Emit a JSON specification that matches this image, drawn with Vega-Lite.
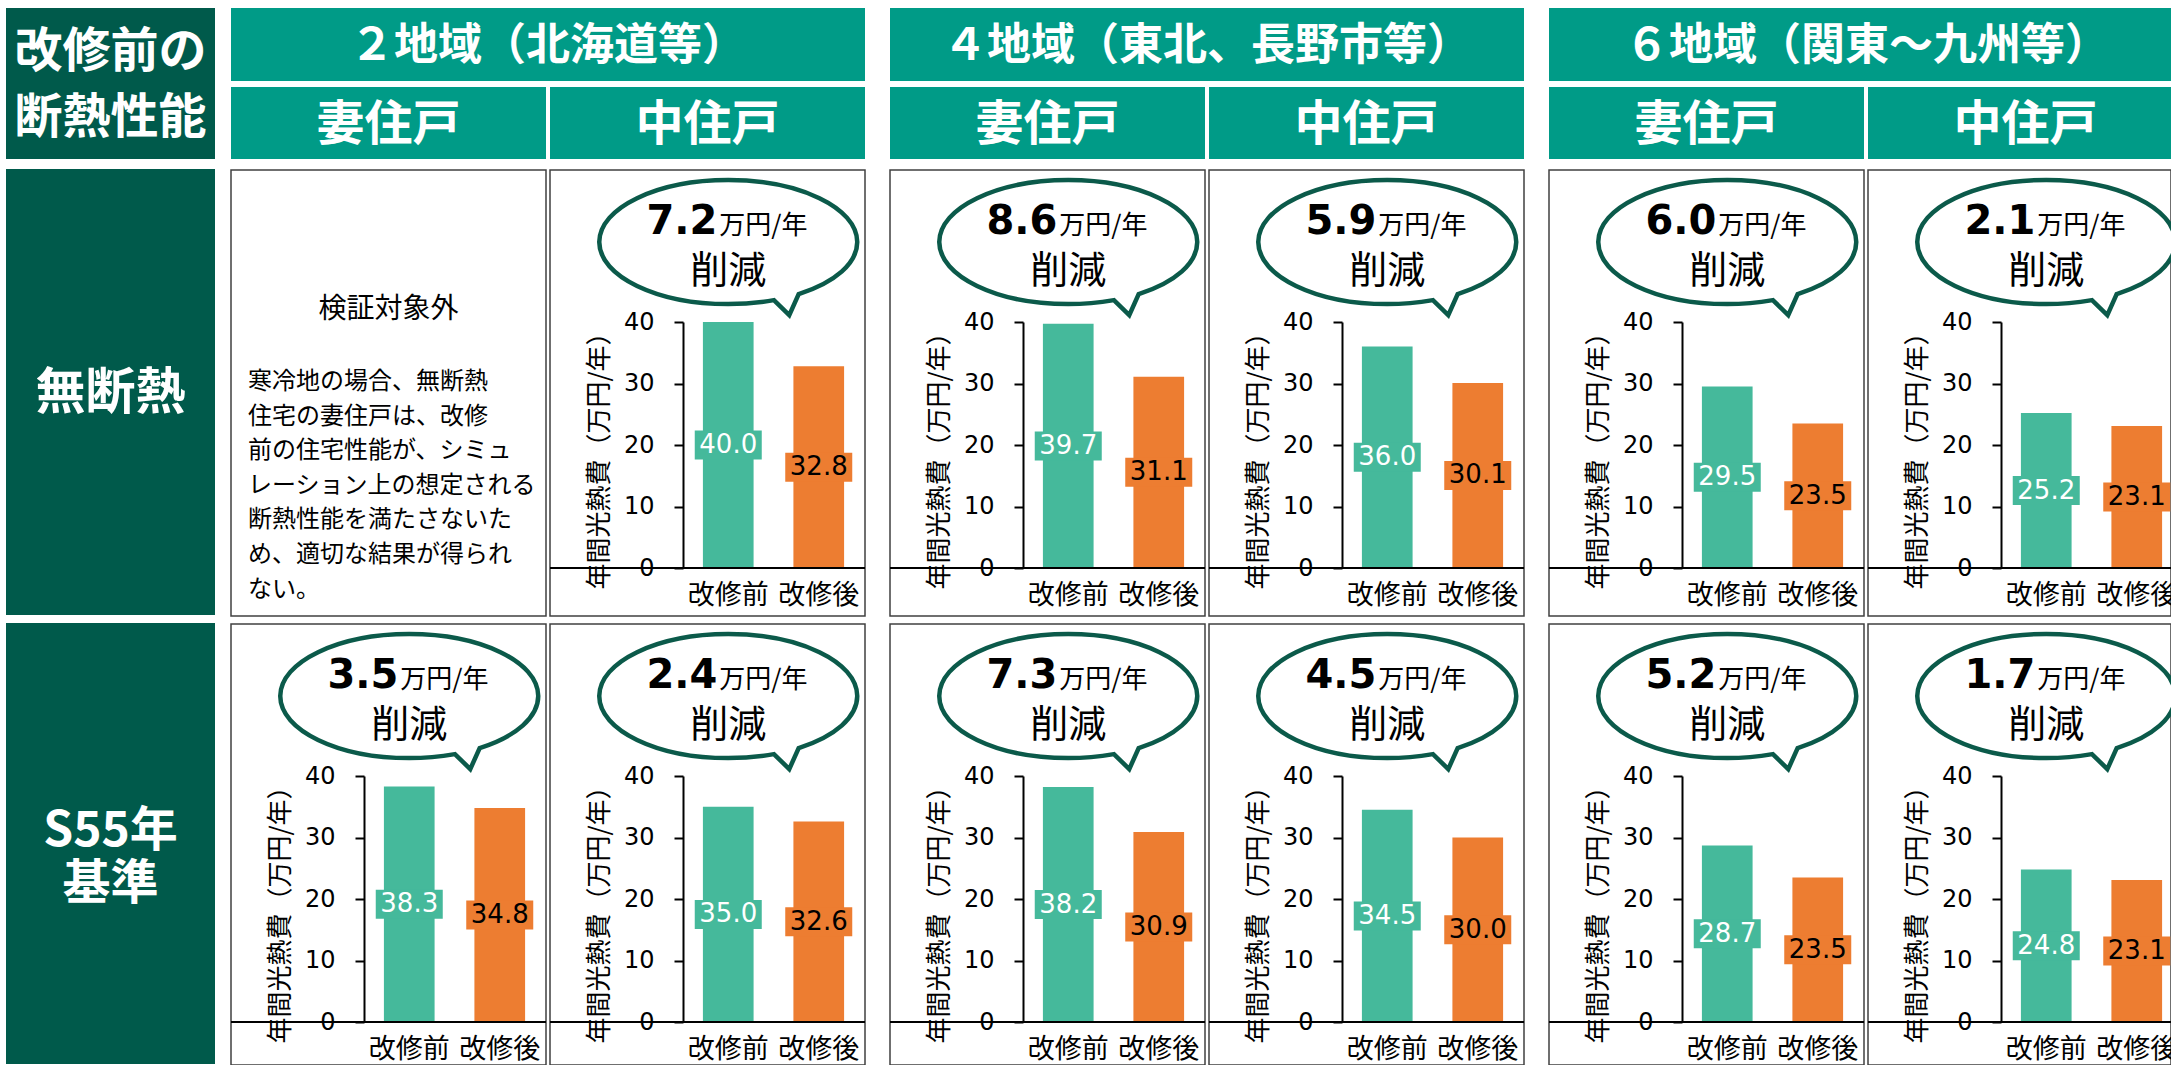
{
"$schema":"https://vega.github.io/schema/vega-lite/v6.json",
"background":"white",
"padding":{"left":6,"top":8,"right":0,"bottom":0},
"config":{"view":{"stroke":null},"font":"Noto Sans CJK JP"},
"datasets":{
"costs":[
{"insul":"無断熱","region":"2地域","unit":"中住戸","phase":"改修前","value":40.0,"reduction":7.2},
{"insul":"無断熱","region":"2地域","unit":"中住戸","phase":"改修後","value":32.8},
{"insul":"無断熱","region":"4地域","unit":"妻住戸","phase":"改修前","value":39.7,"reduction":8.6},
{"insul":"無断熱","region":"4地域","unit":"妻住戸","phase":"改修後","value":31.1},
{"insul":"無断熱","region":"4地域","unit":"中住戸","phase":"改修前","value":36.0,"reduction":5.9},
{"insul":"無断熱","region":"4地域","unit":"中住戸","phase":"改修後","value":30.1},
{"insul":"無断熱","region":"6地域","unit":"妻住戸","phase":"改修前","value":29.5,"reduction":6.0},
{"insul":"無断熱","region":"6地域","unit":"妻住戸","phase":"改修後","value":23.5},
{"insul":"無断熱","region":"6地域","unit":"中住戸","phase":"改修前","value":25.2,"reduction":2.1},
{"insul":"無断熱","region":"6地域","unit":"中住戸","phase":"改修後","value":23.1},
{"insul":"S55年基準","region":"2地域","unit":"妻住戸","phase":"改修前","value":38.3,"reduction":3.5},
{"insul":"S55年基準","region":"2地域","unit":"妻住戸","phase":"改修後","value":34.8},
{"insul":"S55年基準","region":"2地域","unit":"中住戸","phase":"改修前","value":35.0,"reduction":2.4},
{"insul":"S55年基準","region":"2地域","unit":"中住戸","phase":"改修後","value":32.6},
{"insul":"S55年基準","region":"4地域","unit":"妻住戸","phase":"改修前","value":38.2,"reduction":7.3},
{"insul":"S55年基準","region":"4地域","unit":"妻住戸","phase":"改修後","value":30.9},
{"insul":"S55年基準","region":"4地域","unit":"中住戸","phase":"改修前","value":34.5,"reduction":4.5},
{"insul":"S55年基準","region":"4地域","unit":"中住戸","phase":"改修後","value":30.0},
{"insul":"S55年基準","region":"6地域","unit":"妻住戸","phase":"改修前","value":28.7,"reduction":5.2},
{"insul":"S55年基準","region":"6地域","unit":"妻住戸","phase":"改修後","value":23.5},
{"insul":"S55年基準","region":"6地域","unit":"中住戸","phase":"改修前","value":24.8,"reduction":1.7},
{"insul":"S55年基準","region":"6地域","unit":"中住戸","phase":"改修後","value":23.1}
]
},
"spacing":15,
"hconcat":[
{"spacing":10,"vconcat":[
 {"width":209,"height":151,"view":{"fill":"#005A4B","stroke":null},"data":{"values":[{"t":"改修前の\n断熱性能"}]},"mark":{"type":"text","color":"white","font":"Noto Sans CJK JP","fontWeight":"bold","fontSize":48,"lineBreak":"\n","lineHeight":66,"baseline":"middle","align":"center","dy":-31},"encoding":{"text":{"field":"t"}}},
 {"spacing":8,"bounds":"flush","vconcat":[
  {"width":209,"height":446,"view":{"fill":"#005A4B","stroke":null},"data":{"values":[{"t":"無断熱"}]},"mark":{"type":"text","color":"white","font":"Noto Sans CJK JP","fontWeight":"bold","fontSize":50,"baseline":"middle","align":"center","dy":2},"encoding":{"text":{"field":"t"}}},
  {"width":209,"height":441,"view":{"fill":"#005A4B","stroke":null},"data":{"values":[{"t":"S55年\n基準"}]},"mark":{"type":"text","color":"white","font":"Noto Sans CJK JP","fontWeight":"bold","fontSize":48,"lineBreak":"\n","lineHeight":53,"baseline":"middle","align":"center","dy":-12},"encoding":{"text":{"field":"t"}}}
 ]}
]},
{"spacing":23,"hconcat":[
 {"spacing":10,"vconcat":[
  {"spacing":6,"vconcat":[
   {"width":634,"height":73,"view":{"fill":"#009B87","stroke":null},"data":{"values":[{"t":"２地域（北海道等）"}]},"mark":{"type":"text","color":"white","font":"Noto Sans CJK JP","fontWeight":"bold","fontSize":44,"baseline":"middle","align":"center","dy":2},"encoding":{"text":{"field":"t"}}},
   {"spacing":4,"bounds":"flush","hconcat":[
    {"width":315,"height":72,"view":{"fill":"#009B87","stroke":null},"data":{"values":[{"t":"妻住戸"}]},"mark":{"type":"text","color":"white","font":"Noto Sans CJK JP","fontWeight":"bold","fontSize":48,"baseline":"middle","align":"center","dy":3},"encoding":{"text":{"field":"t"}}},
    {"width":315,"height":72,"view":{"fill":"#009B87","stroke":null},"data":{"values":[{"t":"中住戸"}]},"mark":{"type":"text","color":"white","font":"Noto Sans CJK JP","fontWeight":"bold","fontSize":48,"baseline":"middle","align":"center","dy":3},"encoding":{"text":{"field":"t"}}}
   ]}
  ]},
  {"spacing":6,"vconcat":[
   {"spacing":4,"bounds":"flush","hconcat":[
    {"width":315,"height":446,"view":{"stroke":"#404040","strokeWidth":1.5},"data":{"values":[{"title":"検証対象外","body":"寒冷地の場合、無断熱\n住宅の妻住戸は、改修\n前の住宅性能が、シミュ\nレーション上の想定される\n断熱性能を満たさないた\nめ、適切な結果が得られ\nない。"}]},"layer":[
     {"mark":{"type":"text","font":"Noto Sans CJK JP","fontSize":28,"align":"center","baseline":"middle","dy":-83,"color":"black"},"encoding":{"text":{"field":"title"}}},
     {"mark":{"type":"text","font":"Noto Sans CJK JP","fontSize":24,"align":"left","baseline":"alphabetic","dx":-140.5,"dy":-4,"lineBreak":"\n","lineHeight":34.6,"color":"black"},"encoding":{"text":{"field":"body"}}}
    ]},
    {"width":315,"height":446,"view":{"stroke":"#404040","strokeWidth":1.5},"resolve":{"scale":{"y":"independent"}},"data":{"name":"costs"},"transform":[{"filter":"datum.insul==='無断熱'&&datum.region==='2地域'&&datum.unit==='中住戸'"}],"layer":[
     {"mark":{"type":"bar","clip":true},"encoding":{"x":{"field":"phase","type":"nominal","scale":{"domain":["改修前","改修後"],"range":[133,314],"paddingInner":0.44,"paddingOuter":0.22},"axis":null},"y":{"field":"value","type":"quantitative","scale":{"domain":[0,40],"range":[398,152],"nice":false},"axis":{"orient":"left","offset":-133,"values":[0,10,20,30,40],"grid":false,"domainColor":"black","domainWidth":2,"tickColor":"black","tickWidth":2,"tickSize":9,"labelPadding":20,"labelFont":"DejaVu Sans","labelFontSize":24,"labelColor":"black","title":"年間光熱費（万円/年）","titleFont":"Noto Sans CJK JP","titleFontSize":26,"titleFontWeight":"normal","titleColor":"black","titleAngle":-90,"titleX":-84,"titleY":284,"titleAlign":"center","titleBaseline":"middle"}},"color":{"field":"phase","type":"nominal","scale":{"domain":["改修前","改修後"],"range":["#45B99B","#ED7D31"]},"legend":null}}},
     {"mark":{"type":"bar","width":67,"yOffset":-14.5,"y2Offset":14.5,"clip":true},"encoding":{"x":{"field":"phase","type":"nominal","axis":null},"y":{"field":"value","type":"quantitative","scale":{"domain":[0,80],"range":[398,152],"nice":false},"axis":null},"y2":{"field":"value"},"color":{"field":"phase","type":"nominal","legend":null}}},
     {"mark":{"type":"text","font":"DejaVu Sans","fontSize":26,"baseline":"middle","clip":true},"encoding":{"x":{"field":"phase","type":"nominal","axis":null},"y":{"field":"value","type":"quantitative","scale":{"domain":[0,80],"range":[398,152],"nice":false},"axis":null},"text":{"field":"value","type":"quantitative","format":".1f"},"color":{"condition":{"test":"datum.phase==='改修前'","value":"white"},"value":"black"}}},
     {"mark":{"type":"text","font":"Noto Sans CJK JP","fontSize":27,"baseline":"top","dy":15,"color":"black","clip":true},"encoding":{"x":{"field":"phase","type":"nominal","axis":null},"y":{"datum":0,"type":"quantitative","scale":{"domain":[0,40],"range":[398,152],"nice":false},"axis":null},"text":{"field":"phase"}}},
     {"transform":[{"filter":"datum.phase==='改修前'"}],"mark":{"type":"rule","color":"black","strokeWidth":2,"xOffset":124,"clip":true},"encoding":{"y":{"datum":0,"type":"quantitative","scale":{"domain":[0,40],"range":[398,152],"nice":false},"axis":null}}},
     {"transform":[{"filter":"datum.phase==='改修前'"}],"mark":{"type":"point","shape":"M0.546,0.403 C0.829,0.314 1,0.163 1,0 C1,-0.266 0.552,-0.481 0,-0.481 C-0.552,-0.481 -1,-0.266 -1,0 C-1,0.266 -0.552,0.481 0,0.481 C0.121,0.481 0.24,0.47 0.354,0.45 L0.473,0.566 Z","size":66564,"filled":true,"fill":"white","stroke":"#0B5A4A","strokeWidth":4.5,"opacity":1,"clip":true},"encoding":{"x":{"field":"phase","type":"nominal","axis":null},"y":{"datum":53,"type":"quantitative","scale":{"domain":[0,40],"range":[398,152],"nice":false},"axis":null}}},
     {"transform":[{"filter":"datum.phase==='改修前'"}],"mark":{"type":"text","font":"DejaVu Sans","fontWeight":"bold","fontSize":40,"align":"right","baseline":"alphabetic","dx":-11,"color":"black"},"encoding":{"x":{"field":"phase","type":"nominal","axis":null},"y":{"datum":54.3,"type":"quantitative","scale":{"domain":[0,40],"range":[398,152],"nice":false},"axis":null},"text":{"field":"reduction","type":"quantitative","format":".1f"}}},
     {"transform":[{"filter":"datum.phase==='改修前'"}],"mark":{"type":"text","font":"Noto Sans CJK JP","fontSize":26,"align":"left","baseline":"alphabetic","dx":-9,"color":"black"},"encoding":{"x":{"field":"phase","type":"nominal","axis":null},"y":{"datum":54.3,"type":"quantitative","scale":{"domain":[0,40],"range":[398,152],"nice":false},"axis":null},"text":{"value":"万円/年"}}},
     {"transform":[{"filter":"datum.phase==='改修前'"}],"mark":{"type":"text","font":"Noto Sans CJK JP","fontSize":38,"align":"center","baseline":"alphabetic","color":"black"},"encoding":{"x":{"field":"phase","type":"nominal","axis":null},"y":{"datum":46.3,"type":"quantitative","scale":{"domain":[0,40],"range":[398,152],"nice":false},"axis":null},"text":{"value":"削減"}}}
    ]}
   ]},
   {"spacing":4,"bounds":"flush","hconcat":[
    {"width":315,"height":441,"view":{"stroke":"#404040","strokeWidth":1.5},"resolve":{"scale":{"y":"independent"}},"data":{"name":"costs"},"transform":[{"filter":"datum.insul==='S55年基準'&&datum.region==='2地域'&&datum.unit==='妻住戸'"}],"layer":[
     {"mark":{"type":"bar","clip":true},"encoding":{"x":{"field":"phase","type":"nominal","scale":{"domain":["改修前","改修後"],"range":[133,314],"paddingInner":0.44,"paddingOuter":0.22},"axis":null},"y":{"field":"value","type":"quantitative","scale":{"domain":[0,40],"range":[398,152],"nice":false},"axis":{"orient":"left","offset":-133,"values":[0,10,20,30,40],"grid":false,"domainColor":"black","domainWidth":2,"tickColor":"black","tickWidth":2,"tickSize":9,"labelPadding":20,"labelFont":"DejaVu Sans","labelFontSize":24,"labelColor":"black","title":"年間光熱費（万円/年）","titleFont":"Noto Sans CJK JP","titleFontSize":26,"titleFontWeight":"normal","titleColor":"black","titleAngle":-90,"titleX":-84,"titleY":284,"titleAlign":"center","titleBaseline":"middle"}},"color":{"field":"phase","type":"nominal","scale":{"domain":["改修前","改修後"],"range":["#45B99B","#ED7D31"]},"legend":null}}},
     {"mark":{"type":"bar","width":67,"yOffset":-14.5,"y2Offset":14.5,"clip":true},"encoding":{"x":{"field":"phase","type":"nominal","axis":null},"y":{"field":"value","type":"quantitative","scale":{"domain":[0,80],"range":[398,152],"nice":false},"axis":null},"y2":{"field":"value"},"color":{"field":"phase","type":"nominal","legend":null}}},
     {"mark":{"type":"text","font":"DejaVu Sans","fontSize":26,"baseline":"middle","clip":true},"encoding":{"x":{"field":"phase","type":"nominal","axis":null},"y":{"field":"value","type":"quantitative","scale":{"domain":[0,80],"range":[398,152],"nice":false},"axis":null},"text":{"field":"value","type":"quantitative","format":".1f"},"color":{"condition":{"test":"datum.phase==='改修前'","value":"white"},"value":"black"}}},
     {"mark":{"type":"text","font":"Noto Sans CJK JP","fontSize":27,"baseline":"top","dy":15,"color":"black","clip":true},"encoding":{"x":{"field":"phase","type":"nominal","axis":null},"y":{"datum":0,"type":"quantitative","scale":{"domain":[0,40],"range":[398,152],"nice":false},"axis":null},"text":{"field":"phase"}}},
     {"transform":[{"filter":"datum.phase==='改修前'"}],"mark":{"type":"rule","color":"black","strokeWidth":2,"xOffset":124,"clip":true},"encoding":{"y":{"datum":0,"type":"quantitative","scale":{"domain":[0,40],"range":[398,152],"nice":false},"axis":null}}},
     {"transform":[{"filter":"datum.phase==='改修前'"}],"mark":{"type":"point","shape":"M0.546,0.403 C0.829,0.314 1,0.163 1,0 C1,-0.266 0.552,-0.481 0,-0.481 C-0.552,-0.481 -1,-0.266 -1,0 C-1,0.266 -0.552,0.481 0,0.481 C0.121,0.481 0.24,0.47 0.354,0.45 L0.473,0.566 Z","size":66564,"filled":true,"fill":"white","stroke":"#0B5A4A","strokeWidth":4.5,"opacity":1,"clip":true},"encoding":{"x":{"field":"phase","type":"nominal","axis":null},"y":{"datum":53,"type":"quantitative","scale":{"domain":[0,40],"range":[398,152],"nice":false},"axis":null}}},
     {"transform":[{"filter":"datum.phase==='改修前'"}],"mark":{"type":"text","font":"DejaVu Sans","fontWeight":"bold","fontSize":40,"align":"right","baseline":"alphabetic","dx":-11,"color":"black"},"encoding":{"x":{"field":"phase","type":"nominal","axis":null},"y":{"datum":54.3,"type":"quantitative","scale":{"domain":[0,40],"range":[398,152],"nice":false},"axis":null},"text":{"field":"reduction","type":"quantitative","format":".1f"}}},
     {"transform":[{"filter":"datum.phase==='改修前'"}],"mark":{"type":"text","font":"Noto Sans CJK JP","fontSize":26,"align":"left","baseline":"alphabetic","dx":-9,"color":"black"},"encoding":{"x":{"field":"phase","type":"nominal","axis":null},"y":{"datum":54.3,"type":"quantitative","scale":{"domain":[0,40],"range":[398,152],"nice":false},"axis":null},"text":{"value":"万円/年"}}},
     {"transform":[{"filter":"datum.phase==='改修前'"}],"mark":{"type":"text","font":"Noto Sans CJK JP","fontSize":38,"align":"center","baseline":"alphabetic","color":"black"},"encoding":{"x":{"field":"phase","type":"nominal","axis":null},"y":{"datum":46.3,"type":"quantitative","scale":{"domain":[0,40],"range":[398,152],"nice":false},"axis":null},"text":{"value":"削減"}}}
    ]},
    {"width":315,"height":441,"view":{"stroke":"#404040","strokeWidth":1.5},"resolve":{"scale":{"y":"independent"}},"data":{"name":"costs"},"transform":[{"filter":"datum.insul==='S55年基準'&&datum.region==='2地域'&&datum.unit==='中住戸'"}],"layer":[
     {"mark":{"type":"bar","clip":true},"encoding":{"x":{"field":"phase","type":"nominal","scale":{"domain":["改修前","改修後"],"range":[133,314],"paddingInner":0.44,"paddingOuter":0.22},"axis":null},"y":{"field":"value","type":"quantitative","scale":{"domain":[0,40],"range":[398,152],"nice":false},"axis":{"orient":"left","offset":-133,"values":[0,10,20,30,40],"grid":false,"domainColor":"black","domainWidth":2,"tickColor":"black","tickWidth":2,"tickSize":9,"labelPadding":20,"labelFont":"DejaVu Sans","labelFontSize":24,"labelColor":"black","title":"年間光熱費（万円/年）","titleFont":"Noto Sans CJK JP","titleFontSize":26,"titleFontWeight":"normal","titleColor":"black","titleAngle":-90,"titleX":-84,"titleY":284,"titleAlign":"center","titleBaseline":"middle"}},"color":{"field":"phase","type":"nominal","scale":{"domain":["改修前","改修後"],"range":["#45B99B","#ED7D31"]},"legend":null}}},
     {"mark":{"type":"bar","width":67,"yOffset":-14.5,"y2Offset":14.5,"clip":true},"encoding":{"x":{"field":"phase","type":"nominal","axis":null},"y":{"field":"value","type":"quantitative","scale":{"domain":[0,80],"range":[398,152],"nice":false},"axis":null},"y2":{"field":"value"},"color":{"field":"phase","type":"nominal","legend":null}}},
     {"mark":{"type":"text","font":"DejaVu Sans","fontSize":26,"baseline":"middle","clip":true},"encoding":{"x":{"field":"phase","type":"nominal","axis":null},"y":{"field":"value","type":"quantitative","scale":{"domain":[0,80],"range":[398,152],"nice":false},"axis":null},"text":{"field":"value","type":"quantitative","format":".1f"},"color":{"condition":{"test":"datum.phase==='改修前'","value":"white"},"value":"black"}}},
     {"mark":{"type":"text","font":"Noto Sans CJK JP","fontSize":27,"baseline":"top","dy":15,"color":"black","clip":true},"encoding":{"x":{"field":"phase","type":"nominal","axis":null},"y":{"datum":0,"type":"quantitative","scale":{"domain":[0,40],"range":[398,152],"nice":false},"axis":null},"text":{"field":"phase"}}},
     {"transform":[{"filter":"datum.phase==='改修前'"}],"mark":{"type":"rule","color":"black","strokeWidth":2,"xOffset":124,"clip":true},"encoding":{"y":{"datum":0,"type":"quantitative","scale":{"domain":[0,40],"range":[398,152],"nice":false},"axis":null}}},
     {"transform":[{"filter":"datum.phase==='改修前'"}],"mark":{"type":"point","shape":"M0.546,0.403 C0.829,0.314 1,0.163 1,0 C1,-0.266 0.552,-0.481 0,-0.481 C-0.552,-0.481 -1,-0.266 -1,0 C-1,0.266 -0.552,0.481 0,0.481 C0.121,0.481 0.24,0.47 0.354,0.45 L0.473,0.566 Z","size":66564,"filled":true,"fill":"white","stroke":"#0B5A4A","strokeWidth":4.5,"opacity":1,"clip":true},"encoding":{"x":{"field":"phase","type":"nominal","axis":null},"y":{"datum":53,"type":"quantitative","scale":{"domain":[0,40],"range":[398,152],"nice":false},"axis":null}}},
     {"transform":[{"filter":"datum.phase==='改修前'"}],"mark":{"type":"text","font":"DejaVu Sans","fontWeight":"bold","fontSize":40,"align":"right","baseline":"alphabetic","dx":-11,"color":"black"},"encoding":{"x":{"field":"phase","type":"nominal","axis":null},"y":{"datum":54.3,"type":"quantitative","scale":{"domain":[0,40],"range":[398,152],"nice":false},"axis":null},"text":{"field":"reduction","type":"quantitative","format":".1f"}}},
     {"transform":[{"filter":"datum.phase==='改修前'"}],"mark":{"type":"text","font":"Noto Sans CJK JP","fontSize":26,"align":"left","baseline":"alphabetic","dx":-9,"color":"black"},"encoding":{"x":{"field":"phase","type":"nominal","axis":null},"y":{"datum":54.3,"type":"quantitative","scale":{"domain":[0,40],"range":[398,152],"nice":false},"axis":null},"text":{"value":"万円/年"}}},
     {"transform":[{"filter":"datum.phase==='改修前'"}],"mark":{"type":"text","font":"Noto Sans CJK JP","fontSize":38,"align":"center","baseline":"alphabetic","color":"black"},"encoding":{"x":{"field":"phase","type":"nominal","axis":null},"y":{"datum":46.3,"type":"quantitative","scale":{"domain":[0,40],"range":[398,152],"nice":false},"axis":null},"text":{"value":"削減"}}}
    ]}
   ]}
  ]}
 ]},
 {"spacing":10,"vconcat":[
  {"spacing":6,"vconcat":[
   {"width":634,"height":73,"view":{"fill":"#009B87","stroke":null},"data":{"values":[{"t":"４地域（東北、長野市等）"}]},"mark":{"type":"text","color":"white","font":"Noto Sans CJK JP","fontWeight":"bold","fontSize":44,"baseline":"middle","align":"center","dy":2},"encoding":{"text":{"field":"t"}}},
   {"spacing":4,"bounds":"flush","hconcat":[
    {"width":315,"height":72,"view":{"fill":"#009B87","stroke":null},"data":{"values":[{"t":"妻住戸"}]},"mark":{"type":"text","color":"white","font":"Noto Sans CJK JP","fontWeight":"bold","fontSize":48,"baseline":"middle","align":"center","dy":3},"encoding":{"text":{"field":"t"}}},
    {"width":315,"height":72,"view":{"fill":"#009B87","stroke":null},"data":{"values":[{"t":"中住戸"}]},"mark":{"type":"text","color":"white","font":"Noto Sans CJK JP","fontWeight":"bold","fontSize":48,"baseline":"middle","align":"center","dy":3},"encoding":{"text":{"field":"t"}}}
   ]}
  ]},
  {"spacing":6,"vconcat":[
   {"spacing":4,"bounds":"flush","hconcat":[
    {"width":315,"height":446,"view":{"stroke":"#404040","strokeWidth":1.5},"resolve":{"scale":{"y":"independent"}},"data":{"name":"costs"},"transform":[{"filter":"datum.insul==='無断熱'&&datum.region==='4地域'&&datum.unit==='妻住戸'"}],"layer":[
     {"mark":{"type":"bar","clip":true},"encoding":{"x":{"field":"phase","type":"nominal","scale":{"domain":["改修前","改修後"],"range":[133,314],"paddingInner":0.44,"paddingOuter":0.22},"axis":null},"y":{"field":"value","type":"quantitative","scale":{"domain":[0,40],"range":[398,152],"nice":false},"axis":{"orient":"left","offset":-133,"values":[0,10,20,30,40],"grid":false,"domainColor":"black","domainWidth":2,"tickColor":"black","tickWidth":2,"tickSize":9,"labelPadding":20,"labelFont":"DejaVu Sans","labelFontSize":24,"labelColor":"black","title":"年間光熱費（万円/年）","titleFont":"Noto Sans CJK JP","titleFontSize":26,"titleFontWeight":"normal","titleColor":"black","titleAngle":-90,"titleX":-84,"titleY":284,"titleAlign":"center","titleBaseline":"middle"}},"color":{"field":"phase","type":"nominal","scale":{"domain":["改修前","改修後"],"range":["#45B99B","#ED7D31"]},"legend":null}}},
     {"mark":{"type":"bar","width":67,"yOffset":-14.5,"y2Offset":14.5,"clip":true},"encoding":{"x":{"field":"phase","type":"nominal","axis":null},"y":{"field":"value","type":"quantitative","scale":{"domain":[0,80],"range":[398,152],"nice":false},"axis":null},"y2":{"field":"value"},"color":{"field":"phase","type":"nominal","legend":null}}},
     {"mark":{"type":"text","font":"DejaVu Sans","fontSize":26,"baseline":"middle","clip":true},"encoding":{"x":{"field":"phase","type":"nominal","axis":null},"y":{"field":"value","type":"quantitative","scale":{"domain":[0,80],"range":[398,152],"nice":false},"axis":null},"text":{"field":"value","type":"quantitative","format":".1f"},"color":{"condition":{"test":"datum.phase==='改修前'","value":"white"},"value":"black"}}},
     {"mark":{"type":"text","font":"Noto Sans CJK JP","fontSize":27,"baseline":"top","dy":15,"color":"black","clip":true},"encoding":{"x":{"field":"phase","type":"nominal","axis":null},"y":{"datum":0,"type":"quantitative","scale":{"domain":[0,40],"range":[398,152],"nice":false},"axis":null},"text":{"field":"phase"}}},
     {"transform":[{"filter":"datum.phase==='改修前'"}],"mark":{"type":"rule","color":"black","strokeWidth":2,"xOffset":124,"clip":true},"encoding":{"y":{"datum":0,"type":"quantitative","scale":{"domain":[0,40],"range":[398,152],"nice":false},"axis":null}}},
     {"transform":[{"filter":"datum.phase==='改修前'"}],"mark":{"type":"point","shape":"M0.546,0.403 C0.829,0.314 1,0.163 1,0 C1,-0.266 0.552,-0.481 0,-0.481 C-0.552,-0.481 -1,-0.266 -1,0 C-1,0.266 -0.552,0.481 0,0.481 C0.121,0.481 0.24,0.47 0.354,0.45 L0.473,0.566 Z","size":66564,"filled":true,"fill":"white","stroke":"#0B5A4A","strokeWidth":4.5,"opacity":1,"clip":true},"encoding":{"x":{"field":"phase","type":"nominal","axis":null},"y":{"datum":53,"type":"quantitative","scale":{"domain":[0,40],"range":[398,152],"nice":false},"axis":null}}},
     {"transform":[{"filter":"datum.phase==='改修前'"}],"mark":{"type":"text","font":"DejaVu Sans","fontWeight":"bold","fontSize":40,"align":"right","baseline":"alphabetic","dx":-11,"color":"black"},"encoding":{"x":{"field":"phase","type":"nominal","axis":null},"y":{"datum":54.3,"type":"quantitative","scale":{"domain":[0,40],"range":[398,152],"nice":false},"axis":null},"text":{"field":"reduction","type":"quantitative","format":".1f"}}},
     {"transform":[{"filter":"datum.phase==='改修前'"}],"mark":{"type":"text","font":"Noto Sans CJK JP","fontSize":26,"align":"left","baseline":"alphabetic","dx":-9,"color":"black"},"encoding":{"x":{"field":"phase","type":"nominal","axis":null},"y":{"datum":54.3,"type":"quantitative","scale":{"domain":[0,40],"range":[398,152],"nice":false},"axis":null},"text":{"value":"万円/年"}}},
     {"transform":[{"filter":"datum.phase==='改修前'"}],"mark":{"type":"text","font":"Noto Sans CJK JP","fontSize":38,"align":"center","baseline":"alphabetic","color":"black"},"encoding":{"x":{"field":"phase","type":"nominal","axis":null},"y":{"datum":46.3,"type":"quantitative","scale":{"domain":[0,40],"range":[398,152],"nice":false},"axis":null},"text":{"value":"削減"}}}
    ]},
    {"width":315,"height":446,"view":{"stroke":"#404040","strokeWidth":1.5},"resolve":{"scale":{"y":"independent"}},"data":{"name":"costs"},"transform":[{"filter":"datum.insul==='無断熱'&&datum.region==='4地域'&&datum.unit==='中住戸'"}],"layer":[
     {"mark":{"type":"bar","clip":true},"encoding":{"x":{"field":"phase","type":"nominal","scale":{"domain":["改修前","改修後"],"range":[133,314],"paddingInner":0.44,"paddingOuter":0.22},"axis":null},"y":{"field":"value","type":"quantitative","scale":{"domain":[0,40],"range":[398,152],"nice":false},"axis":{"orient":"left","offset":-133,"values":[0,10,20,30,40],"grid":false,"domainColor":"black","domainWidth":2,"tickColor":"black","tickWidth":2,"tickSize":9,"labelPadding":20,"labelFont":"DejaVu Sans","labelFontSize":24,"labelColor":"black","title":"年間光熱費（万円/年）","titleFont":"Noto Sans CJK JP","titleFontSize":26,"titleFontWeight":"normal","titleColor":"black","titleAngle":-90,"titleX":-84,"titleY":284,"titleAlign":"center","titleBaseline":"middle"}},"color":{"field":"phase","type":"nominal","scale":{"domain":["改修前","改修後"],"range":["#45B99B","#ED7D31"]},"legend":null}}},
     {"mark":{"type":"bar","width":67,"yOffset":-14.5,"y2Offset":14.5,"clip":true},"encoding":{"x":{"field":"phase","type":"nominal","axis":null},"y":{"field":"value","type":"quantitative","scale":{"domain":[0,80],"range":[398,152],"nice":false},"axis":null},"y2":{"field":"value"},"color":{"field":"phase","type":"nominal","legend":null}}},
     {"mark":{"type":"text","font":"DejaVu Sans","fontSize":26,"baseline":"middle","clip":true},"encoding":{"x":{"field":"phase","type":"nominal","axis":null},"y":{"field":"value","type":"quantitative","scale":{"domain":[0,80],"range":[398,152],"nice":false},"axis":null},"text":{"field":"value","type":"quantitative","format":".1f"},"color":{"condition":{"test":"datum.phase==='改修前'","value":"white"},"value":"black"}}},
     {"mark":{"type":"text","font":"Noto Sans CJK JP","fontSize":27,"baseline":"top","dy":15,"color":"black","clip":true},"encoding":{"x":{"field":"phase","type":"nominal","axis":null},"y":{"datum":0,"type":"quantitative","scale":{"domain":[0,40],"range":[398,152],"nice":false},"axis":null},"text":{"field":"phase"}}},
     {"transform":[{"filter":"datum.phase==='改修前'"}],"mark":{"type":"rule","color":"black","strokeWidth":2,"xOffset":124,"clip":true},"encoding":{"y":{"datum":0,"type":"quantitative","scale":{"domain":[0,40],"range":[398,152],"nice":false},"axis":null}}},
     {"transform":[{"filter":"datum.phase==='改修前'"}],"mark":{"type":"point","shape":"M0.546,0.403 C0.829,0.314 1,0.163 1,0 C1,-0.266 0.552,-0.481 0,-0.481 C-0.552,-0.481 -1,-0.266 -1,0 C-1,0.266 -0.552,0.481 0,0.481 C0.121,0.481 0.24,0.47 0.354,0.45 L0.473,0.566 Z","size":66564,"filled":true,"fill":"white","stroke":"#0B5A4A","strokeWidth":4.5,"opacity":1,"clip":true},"encoding":{"x":{"field":"phase","type":"nominal","axis":null},"y":{"datum":53,"type":"quantitative","scale":{"domain":[0,40],"range":[398,152],"nice":false},"axis":null}}},
     {"transform":[{"filter":"datum.phase==='改修前'"}],"mark":{"type":"text","font":"DejaVu Sans","fontWeight":"bold","fontSize":40,"align":"right","baseline":"alphabetic","dx":-11,"color":"black"},"encoding":{"x":{"field":"phase","type":"nominal","axis":null},"y":{"datum":54.3,"type":"quantitative","scale":{"domain":[0,40],"range":[398,152],"nice":false},"axis":null},"text":{"field":"reduction","type":"quantitative","format":".1f"}}},
     {"transform":[{"filter":"datum.phase==='改修前'"}],"mark":{"type":"text","font":"Noto Sans CJK JP","fontSize":26,"align":"left","baseline":"alphabetic","dx":-9,"color":"black"},"encoding":{"x":{"field":"phase","type":"nominal","axis":null},"y":{"datum":54.3,"type":"quantitative","scale":{"domain":[0,40],"range":[398,152],"nice":false},"axis":null},"text":{"value":"万円/年"}}},
     {"transform":[{"filter":"datum.phase==='改修前'"}],"mark":{"type":"text","font":"Noto Sans CJK JP","fontSize":38,"align":"center","baseline":"alphabetic","color":"black"},"encoding":{"x":{"field":"phase","type":"nominal","axis":null},"y":{"datum":46.3,"type":"quantitative","scale":{"domain":[0,40],"range":[398,152],"nice":false},"axis":null},"text":{"value":"削減"}}}
    ]}
   ]},
   {"spacing":4,"bounds":"flush","hconcat":[
    {"width":315,"height":441,"view":{"stroke":"#404040","strokeWidth":1.5},"resolve":{"scale":{"y":"independent"}},"data":{"name":"costs"},"transform":[{"filter":"datum.insul==='S55年基準'&&datum.region==='4地域'&&datum.unit==='妻住戸'"}],"layer":[
     {"mark":{"type":"bar","clip":true},"encoding":{"x":{"field":"phase","type":"nominal","scale":{"domain":["改修前","改修後"],"range":[133,314],"paddingInner":0.44,"paddingOuter":0.22},"axis":null},"y":{"field":"value","type":"quantitative","scale":{"domain":[0,40],"range":[398,152],"nice":false},"axis":{"orient":"left","offset":-133,"values":[0,10,20,30,40],"grid":false,"domainColor":"black","domainWidth":2,"tickColor":"black","tickWidth":2,"tickSize":9,"labelPadding":20,"labelFont":"DejaVu Sans","labelFontSize":24,"labelColor":"black","title":"年間光熱費（万円/年）","titleFont":"Noto Sans CJK JP","titleFontSize":26,"titleFontWeight":"normal","titleColor":"black","titleAngle":-90,"titleX":-84,"titleY":284,"titleAlign":"center","titleBaseline":"middle"}},"color":{"field":"phase","type":"nominal","scale":{"domain":["改修前","改修後"],"range":["#45B99B","#ED7D31"]},"legend":null}}},
     {"mark":{"type":"bar","width":67,"yOffset":-14.5,"y2Offset":14.5,"clip":true},"encoding":{"x":{"field":"phase","type":"nominal","axis":null},"y":{"field":"value","type":"quantitative","scale":{"domain":[0,80],"range":[398,152],"nice":false},"axis":null},"y2":{"field":"value"},"color":{"field":"phase","type":"nominal","legend":null}}},
     {"mark":{"type":"text","font":"DejaVu Sans","fontSize":26,"baseline":"middle","clip":true},"encoding":{"x":{"field":"phase","type":"nominal","axis":null},"y":{"field":"value","type":"quantitative","scale":{"domain":[0,80],"range":[398,152],"nice":false},"axis":null},"text":{"field":"value","type":"quantitative","format":".1f"},"color":{"condition":{"test":"datum.phase==='改修前'","value":"white"},"value":"black"}}},
     {"mark":{"type":"text","font":"Noto Sans CJK JP","fontSize":27,"baseline":"top","dy":15,"color":"black","clip":true},"encoding":{"x":{"field":"phase","type":"nominal","axis":null},"y":{"datum":0,"type":"quantitative","scale":{"domain":[0,40],"range":[398,152],"nice":false},"axis":null},"text":{"field":"phase"}}},
     {"transform":[{"filter":"datum.phase==='改修前'"}],"mark":{"type":"rule","color":"black","strokeWidth":2,"xOffset":124,"clip":true},"encoding":{"y":{"datum":0,"type":"quantitative","scale":{"domain":[0,40],"range":[398,152],"nice":false},"axis":null}}},
     {"transform":[{"filter":"datum.phase==='改修前'"}],"mark":{"type":"point","shape":"M0.546,0.403 C0.829,0.314 1,0.163 1,0 C1,-0.266 0.552,-0.481 0,-0.481 C-0.552,-0.481 -1,-0.266 -1,0 C-1,0.266 -0.552,0.481 0,0.481 C0.121,0.481 0.24,0.47 0.354,0.45 L0.473,0.566 Z","size":66564,"filled":true,"fill":"white","stroke":"#0B5A4A","strokeWidth":4.5,"opacity":1,"clip":true},"encoding":{"x":{"field":"phase","type":"nominal","axis":null},"y":{"datum":53,"type":"quantitative","scale":{"domain":[0,40],"range":[398,152],"nice":false},"axis":null}}},
     {"transform":[{"filter":"datum.phase==='改修前'"}],"mark":{"type":"text","font":"DejaVu Sans","fontWeight":"bold","fontSize":40,"align":"right","baseline":"alphabetic","dx":-11,"color":"black"},"encoding":{"x":{"field":"phase","type":"nominal","axis":null},"y":{"datum":54.3,"type":"quantitative","scale":{"domain":[0,40],"range":[398,152],"nice":false},"axis":null},"text":{"field":"reduction","type":"quantitative","format":".1f"}}},
     {"transform":[{"filter":"datum.phase==='改修前'"}],"mark":{"type":"text","font":"Noto Sans CJK JP","fontSize":26,"align":"left","baseline":"alphabetic","dx":-9,"color":"black"},"encoding":{"x":{"field":"phase","type":"nominal","axis":null},"y":{"datum":54.3,"type":"quantitative","scale":{"domain":[0,40],"range":[398,152],"nice":false},"axis":null},"text":{"value":"万円/年"}}},
     {"transform":[{"filter":"datum.phase==='改修前'"}],"mark":{"type":"text","font":"Noto Sans CJK JP","fontSize":38,"align":"center","baseline":"alphabetic","color":"black"},"encoding":{"x":{"field":"phase","type":"nominal","axis":null},"y":{"datum":46.3,"type":"quantitative","scale":{"domain":[0,40],"range":[398,152],"nice":false},"axis":null},"text":{"value":"削減"}}}
    ]},
    {"width":315,"height":441,"view":{"stroke":"#404040","strokeWidth":1.5},"resolve":{"scale":{"y":"independent"}},"data":{"name":"costs"},"transform":[{"filter":"datum.insul==='S55年基準'&&datum.region==='4地域'&&datum.unit==='中住戸'"}],"layer":[
     {"mark":{"type":"bar","clip":true},"encoding":{"x":{"field":"phase","type":"nominal","scale":{"domain":["改修前","改修後"],"range":[133,314],"paddingInner":0.44,"paddingOuter":0.22},"axis":null},"y":{"field":"value","type":"quantitative","scale":{"domain":[0,40],"range":[398,152],"nice":false},"axis":{"orient":"left","offset":-133,"values":[0,10,20,30,40],"grid":false,"domainColor":"black","domainWidth":2,"tickColor":"black","tickWidth":2,"tickSize":9,"labelPadding":20,"labelFont":"DejaVu Sans","labelFontSize":24,"labelColor":"black","title":"年間光熱費（万円/年）","titleFont":"Noto Sans CJK JP","titleFontSize":26,"titleFontWeight":"normal","titleColor":"black","titleAngle":-90,"titleX":-84,"titleY":284,"titleAlign":"center","titleBaseline":"middle"}},"color":{"field":"phase","type":"nominal","scale":{"domain":["改修前","改修後"],"range":["#45B99B","#ED7D31"]},"legend":null}}},
     {"mark":{"type":"bar","width":67,"yOffset":-14.5,"y2Offset":14.5,"clip":true},"encoding":{"x":{"field":"phase","type":"nominal","axis":null},"y":{"field":"value","type":"quantitative","scale":{"domain":[0,80],"range":[398,152],"nice":false},"axis":null},"y2":{"field":"value"},"color":{"field":"phase","type":"nominal","legend":null}}},
     {"mark":{"type":"text","font":"DejaVu Sans","fontSize":26,"baseline":"middle","clip":true},"encoding":{"x":{"field":"phase","type":"nominal","axis":null},"y":{"field":"value","type":"quantitative","scale":{"domain":[0,80],"range":[398,152],"nice":false},"axis":null},"text":{"field":"value","type":"quantitative","format":".1f"},"color":{"condition":{"test":"datum.phase==='改修前'","value":"white"},"value":"black"}}},
     {"mark":{"type":"text","font":"Noto Sans CJK JP","fontSize":27,"baseline":"top","dy":15,"color":"black","clip":true},"encoding":{"x":{"field":"phase","type":"nominal","axis":null},"y":{"datum":0,"type":"quantitative","scale":{"domain":[0,40],"range":[398,152],"nice":false},"axis":null},"text":{"field":"phase"}}},
     {"transform":[{"filter":"datum.phase==='改修前'"}],"mark":{"type":"rule","color":"black","strokeWidth":2,"xOffset":124,"clip":true},"encoding":{"y":{"datum":0,"type":"quantitative","scale":{"domain":[0,40],"range":[398,152],"nice":false},"axis":null}}},
     {"transform":[{"filter":"datum.phase==='改修前'"}],"mark":{"type":"point","shape":"M0.546,0.403 C0.829,0.314 1,0.163 1,0 C1,-0.266 0.552,-0.481 0,-0.481 C-0.552,-0.481 -1,-0.266 -1,0 C-1,0.266 -0.552,0.481 0,0.481 C0.121,0.481 0.24,0.47 0.354,0.45 L0.473,0.566 Z","size":66564,"filled":true,"fill":"white","stroke":"#0B5A4A","strokeWidth":4.5,"opacity":1,"clip":true},"encoding":{"x":{"field":"phase","type":"nominal","axis":null},"y":{"datum":53,"type":"quantitative","scale":{"domain":[0,40],"range":[398,152],"nice":false},"axis":null}}},
     {"transform":[{"filter":"datum.phase==='改修前'"}],"mark":{"type":"text","font":"DejaVu Sans","fontWeight":"bold","fontSize":40,"align":"right","baseline":"alphabetic","dx":-11,"color":"black"},"encoding":{"x":{"field":"phase","type":"nominal","axis":null},"y":{"datum":54.3,"type":"quantitative","scale":{"domain":[0,40],"range":[398,152],"nice":false},"axis":null},"text":{"field":"reduction","type":"quantitative","format":".1f"}}},
     {"transform":[{"filter":"datum.phase==='改修前'"}],"mark":{"type":"text","font":"Noto Sans CJK JP","fontSize":26,"align":"left","baseline":"alphabetic","dx":-9,"color":"black"},"encoding":{"x":{"field":"phase","type":"nominal","axis":null},"y":{"datum":54.3,"type":"quantitative","scale":{"domain":[0,40],"range":[398,152],"nice":false},"axis":null},"text":{"value":"万円/年"}}},
     {"transform":[{"filter":"datum.phase==='改修前'"}],"mark":{"type":"text","font":"Noto Sans CJK JP","fontSize":38,"align":"center","baseline":"alphabetic","color":"black"},"encoding":{"x":{"field":"phase","type":"nominal","axis":null},"y":{"datum":46.3,"type":"quantitative","scale":{"domain":[0,40],"range":[398,152],"nice":false},"axis":null},"text":{"value":"削減"}}}
    ]}
   ]}
  ]}
 ]},
 {"spacing":10,"vconcat":[
  {"spacing":6,"vconcat":[
   {"width":622,"height":73,"view":{"fill":"#009B87","stroke":null},"data":{"values":[{"t":"６地域（関東～九州等）"}]},"mark":{"type":"text","color":"white","font":"Noto Sans CJK JP","fontWeight":"bold","fontSize":44,"baseline":"middle","align":"center","dx":7,"dy":2},"encoding":{"text":{"field":"t"}}},
   {"spacing":4,"bounds":"flush","hconcat":[
    {"width":315,"height":72,"view":{"fill":"#009B87","stroke":null},"data":{"values":[{"t":"妻住戸"}]},"mark":{"type":"text","color":"white","font":"Noto Sans CJK JP","fontWeight":"bold","fontSize":48,"baseline":"middle","align":"center","dy":3},"encoding":{"text":{"field":"t"}}},
    {"width":303,"height":72,"view":{"fill":"#009B87","stroke":null},"data":{"values":[{"t":"中住戸"}]},"mark":{"type":"text","color":"white","font":"Noto Sans CJK JP","fontWeight":"bold","fontSize":48,"baseline":"middle","align":"center","dx":6,"dy":3},"encoding":{"text":{"field":"t"}}}
   ]}
  ]},
  {"spacing":6,"vconcat":[
   {"spacing":4,"bounds":"flush","hconcat":[
    {"width":315,"height":446,"view":{"stroke":"#404040","strokeWidth":1.5},"resolve":{"scale":{"y":"independent"}},"data":{"name":"costs"},"transform":[{"filter":"datum.insul==='無断熱'&&datum.region==='6地域'&&datum.unit==='妻住戸'"}],"layer":[
     {"mark":{"type":"bar","clip":true},"encoding":{"x":{"field":"phase","type":"nominal","scale":{"domain":["改修前","改修後"],"range":[133,314],"paddingInner":0.44,"paddingOuter":0.22},"axis":null},"y":{"field":"value","type":"quantitative","scale":{"domain":[0,40],"range":[398,152],"nice":false},"axis":{"orient":"left","offset":-133,"values":[0,10,20,30,40],"grid":false,"domainColor":"black","domainWidth":2,"tickColor":"black","tickWidth":2,"tickSize":9,"labelPadding":20,"labelFont":"DejaVu Sans","labelFontSize":24,"labelColor":"black","title":"年間光熱費（万円/年）","titleFont":"Noto Sans CJK JP","titleFontSize":26,"titleFontWeight":"normal","titleColor":"black","titleAngle":-90,"titleX":-84,"titleY":284,"titleAlign":"center","titleBaseline":"middle"}},"color":{"field":"phase","type":"nominal","scale":{"domain":["改修前","改修後"],"range":["#45B99B","#ED7D31"]},"legend":null}}},
     {"mark":{"type":"bar","width":67,"yOffset":-14.5,"y2Offset":14.5,"clip":true},"encoding":{"x":{"field":"phase","type":"nominal","axis":null},"y":{"field":"value","type":"quantitative","scale":{"domain":[0,80],"range":[398,152],"nice":false},"axis":null},"y2":{"field":"value"},"color":{"field":"phase","type":"nominal","legend":null}}},
     {"mark":{"type":"text","font":"DejaVu Sans","fontSize":26,"baseline":"middle","clip":true},"encoding":{"x":{"field":"phase","type":"nominal","axis":null},"y":{"field":"value","type":"quantitative","scale":{"domain":[0,80],"range":[398,152],"nice":false},"axis":null},"text":{"field":"value","type":"quantitative","format":".1f"},"color":{"condition":{"test":"datum.phase==='改修前'","value":"white"},"value":"black"}}},
     {"mark":{"type":"text","font":"Noto Sans CJK JP","fontSize":27,"baseline":"top","dy":15,"color":"black","clip":true},"encoding":{"x":{"field":"phase","type":"nominal","axis":null},"y":{"datum":0,"type":"quantitative","scale":{"domain":[0,40],"range":[398,152],"nice":false},"axis":null},"text":{"field":"phase"}}},
     {"transform":[{"filter":"datum.phase==='改修前'"}],"mark":{"type":"rule","color":"black","strokeWidth":2,"xOffset":124,"clip":true},"encoding":{"y":{"datum":0,"type":"quantitative","scale":{"domain":[0,40],"range":[398,152],"nice":false},"axis":null}}},
     {"transform":[{"filter":"datum.phase==='改修前'"}],"mark":{"type":"point","shape":"M0.546,0.403 C0.829,0.314 1,0.163 1,0 C1,-0.266 0.552,-0.481 0,-0.481 C-0.552,-0.481 -1,-0.266 -1,0 C-1,0.266 -0.552,0.481 0,0.481 C0.121,0.481 0.24,0.47 0.354,0.45 L0.473,0.566 Z","size":66564,"filled":true,"fill":"white","stroke":"#0B5A4A","strokeWidth":4.5,"opacity":1,"clip":true},"encoding":{"x":{"field":"phase","type":"nominal","axis":null},"y":{"datum":53,"type":"quantitative","scale":{"domain":[0,40],"range":[398,152],"nice":false},"axis":null}}},
     {"transform":[{"filter":"datum.phase==='改修前'"}],"mark":{"type":"text","font":"DejaVu Sans","fontWeight":"bold","fontSize":40,"align":"right","baseline":"alphabetic","dx":-11,"color":"black"},"encoding":{"x":{"field":"phase","type":"nominal","axis":null},"y":{"datum":54.3,"type":"quantitative","scale":{"domain":[0,40],"range":[398,152],"nice":false},"axis":null},"text":{"field":"reduction","type":"quantitative","format":".1f"}}},
     {"transform":[{"filter":"datum.phase==='改修前'"}],"mark":{"type":"text","font":"Noto Sans CJK JP","fontSize":26,"align":"left","baseline":"alphabetic","dx":-9,"color":"black"},"encoding":{"x":{"field":"phase","type":"nominal","axis":null},"y":{"datum":54.3,"type":"quantitative","scale":{"domain":[0,40],"range":[398,152],"nice":false},"axis":null},"text":{"value":"万円/年"}}},
     {"transform":[{"filter":"datum.phase==='改修前'"}],"mark":{"type":"text","font":"Noto Sans CJK JP","fontSize":38,"align":"center","baseline":"alphabetic","color":"black"},"encoding":{"x":{"field":"phase","type":"nominal","axis":null},"y":{"datum":46.3,"type":"quantitative","scale":{"domain":[0,40],"range":[398,152],"nice":false},"axis":null},"text":{"value":"削減"}}}
    ]},
    {"width":303,"height":446,"view":{"stroke":"#404040","strokeWidth":1.5},"resolve":{"scale":{"y":"independent"}},"data":{"name":"costs"},"transform":[{"filter":"datum.insul==='無断熱'&&datum.region==='6地域'&&datum.unit==='中住戸'"}],"layer":[
     {"mark":{"type":"bar","clip":true},"encoding":{"x":{"field":"phase","type":"nominal","scale":{"domain":["改修前","改修後"],"range":[133,314],"paddingInner":0.44,"paddingOuter":0.22},"axis":null},"y":{"field":"value","type":"quantitative","scale":{"domain":[0,40],"range":[398,152],"nice":false},"axis":{"orient":"left","offset":-133,"values":[0,10,20,30,40],"grid":false,"domainColor":"black","domainWidth":2,"tickColor":"black","tickWidth":2,"tickSize":9,"labelPadding":20,"labelFont":"DejaVu Sans","labelFontSize":24,"labelColor":"black","title":"年間光熱費（万円/年）","titleFont":"Noto Sans CJK JP","titleFontSize":26,"titleFontWeight":"normal","titleColor":"black","titleAngle":-90,"titleX":-84,"titleY":284,"titleAlign":"center","titleBaseline":"middle"}},"color":{"field":"phase","type":"nominal","scale":{"domain":["改修前","改修後"],"range":["#45B99B","#ED7D31"]},"legend":null}}},
     {"mark":{"type":"bar","width":67,"yOffset":-14.5,"y2Offset":14.5,"clip":true},"encoding":{"x":{"field":"phase","type":"nominal","axis":null},"y":{"field":"value","type":"quantitative","scale":{"domain":[0,80],"range":[398,152],"nice":false},"axis":null},"y2":{"field":"value"},"color":{"field":"phase","type":"nominal","legend":null}}},
     {"mark":{"type":"text","font":"DejaVu Sans","fontSize":26,"baseline":"middle","clip":true},"encoding":{"x":{"field":"phase","type":"nominal","axis":null},"y":{"field":"value","type":"quantitative","scale":{"domain":[0,80],"range":[398,152],"nice":false},"axis":null},"text":{"field":"value","type":"quantitative","format":".1f"},"color":{"condition":{"test":"datum.phase==='改修前'","value":"white"},"value":"black"}}},
     {"mark":{"type":"text","font":"Noto Sans CJK JP","fontSize":27,"baseline":"top","dy":15,"color":"black","clip":true},"encoding":{"x":{"field":"phase","type":"nominal","axis":null},"y":{"datum":0,"type":"quantitative","scale":{"domain":[0,40],"range":[398,152],"nice":false},"axis":null},"text":{"field":"phase"}}},
     {"transform":[{"filter":"datum.phase==='改修前'"}],"mark":{"type":"rule","color":"black","strokeWidth":2,"xOffset":124,"clip":true},"encoding":{"y":{"datum":0,"type":"quantitative","scale":{"domain":[0,40],"range":[398,152],"nice":false},"axis":null}}},
     {"transform":[{"filter":"datum.phase==='改修前'"}],"mark":{"type":"point","shape":"M0.546,0.403 C0.829,0.314 1,0.163 1,0 C1,-0.266 0.552,-0.481 0,-0.481 C-0.552,-0.481 -1,-0.266 -1,0 C-1,0.266 -0.552,0.481 0,0.481 C0.121,0.481 0.24,0.47 0.354,0.45 L0.473,0.566 Z","size":66564,"filled":true,"fill":"white","stroke":"#0B5A4A","strokeWidth":4.5,"opacity":1,"clip":true},"encoding":{"x":{"field":"phase","type":"nominal","axis":null},"y":{"datum":53,"type":"quantitative","scale":{"domain":[0,40],"range":[398,152],"nice":false},"axis":null}}},
     {"transform":[{"filter":"datum.phase==='改修前'"}],"mark":{"type":"text","font":"DejaVu Sans","fontWeight":"bold","fontSize":40,"align":"right","baseline":"alphabetic","dx":-11,"color":"black"},"encoding":{"x":{"field":"phase","type":"nominal","axis":null},"y":{"datum":54.3,"type":"quantitative","scale":{"domain":[0,40],"range":[398,152],"nice":false},"axis":null},"text":{"field":"reduction","type":"quantitative","format":".1f"}}},
     {"transform":[{"filter":"datum.phase==='改修前'"}],"mark":{"type":"text","font":"Noto Sans CJK JP","fontSize":26,"align":"left","baseline":"alphabetic","dx":-9,"color":"black"},"encoding":{"x":{"field":"phase","type":"nominal","axis":null},"y":{"datum":54.3,"type":"quantitative","scale":{"domain":[0,40],"range":[398,152],"nice":false},"axis":null},"text":{"value":"万円/年"}}},
     {"transform":[{"filter":"datum.phase==='改修前'"}],"mark":{"type":"text","font":"Noto Sans CJK JP","fontSize":38,"align":"center","baseline":"alphabetic","color":"black"},"encoding":{"x":{"field":"phase","type":"nominal","axis":null},"y":{"datum":46.3,"type":"quantitative","scale":{"domain":[0,40],"range":[398,152],"nice":false},"axis":null},"text":{"value":"削減"}}}
    ]}
   ]},
   {"spacing":4,"bounds":"flush","hconcat":[
    {"width":315,"height":441,"view":{"stroke":"#404040","strokeWidth":1.5},"resolve":{"scale":{"y":"independent"}},"data":{"name":"costs"},"transform":[{"filter":"datum.insul==='S55年基準'&&datum.region==='6地域'&&datum.unit==='妻住戸'"}],"layer":[
     {"mark":{"type":"bar","clip":true},"encoding":{"x":{"field":"phase","type":"nominal","scale":{"domain":["改修前","改修後"],"range":[133,314],"paddingInner":0.44,"paddingOuter":0.22},"axis":null},"y":{"field":"value","type":"quantitative","scale":{"domain":[0,40],"range":[398,152],"nice":false},"axis":{"orient":"left","offset":-133,"values":[0,10,20,30,40],"grid":false,"domainColor":"black","domainWidth":2,"tickColor":"black","tickWidth":2,"tickSize":9,"labelPadding":20,"labelFont":"DejaVu Sans","labelFontSize":24,"labelColor":"black","title":"年間光熱費（万円/年）","titleFont":"Noto Sans CJK JP","titleFontSize":26,"titleFontWeight":"normal","titleColor":"black","titleAngle":-90,"titleX":-84,"titleY":284,"titleAlign":"center","titleBaseline":"middle"}},"color":{"field":"phase","type":"nominal","scale":{"domain":["改修前","改修後"],"range":["#45B99B","#ED7D31"]},"legend":null}}},
     {"mark":{"type":"bar","width":67,"yOffset":-14.5,"y2Offset":14.5,"clip":true},"encoding":{"x":{"field":"phase","type":"nominal","axis":null},"y":{"field":"value","type":"quantitative","scale":{"domain":[0,80],"range":[398,152],"nice":false},"axis":null},"y2":{"field":"value"},"color":{"field":"phase","type":"nominal","legend":null}}},
     {"mark":{"type":"text","font":"DejaVu Sans","fontSize":26,"baseline":"middle","clip":true},"encoding":{"x":{"field":"phase","type":"nominal","axis":null},"y":{"field":"value","type":"quantitative","scale":{"domain":[0,80],"range":[398,152],"nice":false},"axis":null},"text":{"field":"value","type":"quantitative","format":".1f"},"color":{"condition":{"test":"datum.phase==='改修前'","value":"white"},"value":"black"}}},
     {"mark":{"type":"text","font":"Noto Sans CJK JP","fontSize":27,"baseline":"top","dy":15,"color":"black","clip":true},"encoding":{"x":{"field":"phase","type":"nominal","axis":null},"y":{"datum":0,"type":"quantitative","scale":{"domain":[0,40],"range":[398,152],"nice":false},"axis":null},"text":{"field":"phase"}}},
     {"transform":[{"filter":"datum.phase==='改修前'"}],"mark":{"type":"rule","color":"black","strokeWidth":2,"xOffset":124,"clip":true},"encoding":{"y":{"datum":0,"type":"quantitative","scale":{"domain":[0,40],"range":[398,152],"nice":false},"axis":null}}},
     {"transform":[{"filter":"datum.phase==='改修前'"}],"mark":{"type":"point","shape":"M0.546,0.403 C0.829,0.314 1,0.163 1,0 C1,-0.266 0.552,-0.481 0,-0.481 C-0.552,-0.481 -1,-0.266 -1,0 C-1,0.266 -0.552,0.481 0,0.481 C0.121,0.481 0.24,0.47 0.354,0.45 L0.473,0.566 Z","size":66564,"filled":true,"fill":"white","stroke":"#0B5A4A","strokeWidth":4.5,"opacity":1,"clip":true},"encoding":{"x":{"field":"phase","type":"nominal","axis":null},"y":{"datum":53,"type":"quantitative","scale":{"domain":[0,40],"range":[398,152],"nice":false},"axis":null}}},
     {"transform":[{"filter":"datum.phase==='改修前'"}],"mark":{"type":"text","font":"DejaVu Sans","fontWeight":"bold","fontSize":40,"align":"right","baseline":"alphabetic","dx":-11,"color":"black"},"encoding":{"x":{"field":"phase","type":"nominal","axis":null},"y":{"datum":54.3,"type":"quantitative","scale":{"domain":[0,40],"range":[398,152],"nice":false},"axis":null},"text":{"field":"reduction","type":"quantitative","format":".1f"}}},
     {"transform":[{"filter":"datum.phase==='改修前'"}],"mark":{"type":"text","font":"Noto Sans CJK JP","fontSize":26,"align":"left","baseline":"alphabetic","dx":-9,"color":"black"},"encoding":{"x":{"field":"phase","type":"nominal","axis":null},"y":{"datum":54.3,"type":"quantitative","scale":{"domain":[0,40],"range":[398,152],"nice":false},"axis":null},"text":{"value":"万円/年"}}},
     {"transform":[{"filter":"datum.phase==='改修前'"}],"mark":{"type":"text","font":"Noto Sans CJK JP","fontSize":38,"align":"center","baseline":"alphabetic","color":"black"},"encoding":{"x":{"field":"phase","type":"nominal","axis":null},"y":{"datum":46.3,"type":"quantitative","scale":{"domain":[0,40],"range":[398,152],"nice":false},"axis":null},"text":{"value":"削減"}}}
    ]},
    {"width":303,"height":441,"view":{"stroke":"#404040","strokeWidth":1.5},"resolve":{"scale":{"y":"independent"}},"data":{"name":"costs"},"transform":[{"filter":"datum.insul==='S55年基準'&&datum.region==='6地域'&&datum.unit==='中住戸'"}],"layer":[
     {"mark":{"type":"bar","clip":true},"encoding":{"x":{"field":"phase","type":"nominal","scale":{"domain":["改修前","改修後"],"range":[133,314],"paddingInner":0.44,"paddingOuter":0.22},"axis":null},"y":{"field":"value","type":"quantitative","scale":{"domain":[0,40],"range":[398,152],"nice":false},"axis":{"orient":"left","offset":-133,"values":[0,10,20,30,40],"grid":false,"domainColor":"black","domainWidth":2,"tickColor":"black","tickWidth":2,"tickSize":9,"labelPadding":20,"labelFont":"DejaVu Sans","labelFontSize":24,"labelColor":"black","title":"年間光熱費（万円/年）","titleFont":"Noto Sans CJK JP","titleFontSize":26,"titleFontWeight":"normal","titleColor":"black","titleAngle":-90,"titleX":-84,"titleY":284,"titleAlign":"center","titleBaseline":"middle"}},"color":{"field":"phase","type":"nominal","scale":{"domain":["改修前","改修後"],"range":["#45B99B","#ED7D31"]},"legend":null}}},
     {"mark":{"type":"bar","width":67,"yOffset":-14.5,"y2Offset":14.5,"clip":true},"encoding":{"x":{"field":"phase","type":"nominal","axis":null},"y":{"field":"value","type":"quantitative","scale":{"domain":[0,80],"range":[398,152],"nice":false},"axis":null},"y2":{"field":"value"},"color":{"field":"phase","type":"nominal","legend":null}}},
     {"mark":{"type":"text","font":"DejaVu Sans","fontSize":26,"baseline":"middle","clip":true},"encoding":{"x":{"field":"phase","type":"nominal","axis":null},"y":{"field":"value","type":"quantitative","scale":{"domain":[0,80],"range":[398,152],"nice":false},"axis":null},"text":{"field":"value","type":"quantitative","format":".1f"},"color":{"condition":{"test":"datum.phase==='改修前'","value":"white"},"value":"black"}}},
     {"mark":{"type":"text","font":"Noto Sans CJK JP","fontSize":27,"baseline":"top","dy":15,"color":"black","clip":true},"encoding":{"x":{"field":"phase","type":"nominal","axis":null},"y":{"datum":0,"type":"quantitative","scale":{"domain":[0,40],"range":[398,152],"nice":false},"axis":null},"text":{"field":"phase"}}},
     {"transform":[{"filter":"datum.phase==='改修前'"}],"mark":{"type":"rule","color":"black","strokeWidth":2,"xOffset":124,"clip":true},"encoding":{"y":{"datum":0,"type":"quantitative","scale":{"domain":[0,40],"range":[398,152],"nice":false},"axis":null}}},
     {"transform":[{"filter":"datum.phase==='改修前'"}],"mark":{"type":"point","shape":"M0.546,0.403 C0.829,0.314 1,0.163 1,0 C1,-0.266 0.552,-0.481 0,-0.481 C-0.552,-0.481 -1,-0.266 -1,0 C-1,0.266 -0.552,0.481 0,0.481 C0.121,0.481 0.24,0.47 0.354,0.45 L0.473,0.566 Z","size":66564,"filled":true,"fill":"white","stroke":"#0B5A4A","strokeWidth":4.5,"opacity":1,"clip":true},"encoding":{"x":{"field":"phase","type":"nominal","axis":null},"y":{"datum":53,"type":"quantitative","scale":{"domain":[0,40],"range":[398,152],"nice":false},"axis":null}}},
     {"transform":[{"filter":"datum.phase==='改修前'"}],"mark":{"type":"text","font":"DejaVu Sans","fontWeight":"bold","fontSize":40,"align":"right","baseline":"alphabetic","dx":-11,"color":"black"},"encoding":{"x":{"field":"phase","type":"nominal","axis":null},"y":{"datum":54.3,"type":"quantitative","scale":{"domain":[0,40],"range":[398,152],"nice":false},"axis":null},"text":{"field":"reduction","type":"quantitative","format":".1f"}}},
     {"transform":[{"filter":"datum.phase==='改修前'"}],"mark":{"type":"text","font":"Noto Sans CJK JP","fontSize":26,"align":"left","baseline":"alphabetic","dx":-9,"color":"black"},"encoding":{"x":{"field":"phase","type":"nominal","axis":null},"y":{"datum":54.3,"type":"quantitative","scale":{"domain":[0,40],"range":[398,152],"nice":false},"axis":null},"text":{"value":"万円/年"}}},
     {"transform":[{"filter":"datum.phase==='改修前'"}],"mark":{"type":"text","font":"Noto Sans CJK JP","fontSize":38,"align":"center","baseline":"alphabetic","color":"black"},"encoding":{"x":{"field":"phase","type":"nominal","axis":null},"y":{"datum":46.3,"type":"quantitative","scale":{"domain":[0,40],"range":[398,152],"nice":false},"axis":null},"text":{"value":"削減"}}}
    ]}
   ]}
  ]}
 ]}
]}
]
}
